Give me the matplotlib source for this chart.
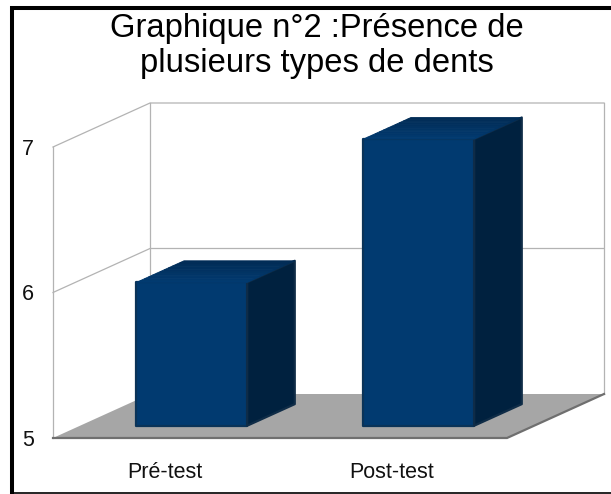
import numpy as np
import matplotlib
matplotlib.use('Agg')
from matplotlib import pyplot as plt
from matplotlib.lines import Line2D
from matplotlib.patches import Polygon

plt.rcParams['font.family'] = ['Liberation Sans', 'DejaVu Sans']

title = 'Graphique n°2 :Présence de\nplusieurs types de dents'
categories = ['Pré-test', 'Post-test']
values = [6, 7]
y_ticks = [5, 6, 7]

W, H = 611, 494
# pixels per category / per unit of value
xs, ys = 227.0, 145.5
x0, y5 = 166.5, 438.0
# oblique shift of the full depth of the box, in data units
dx, dy = 97.0 / xs, 44.0 / ys


def proj(x, y, d=0.0):
    return x + d * dx, y + d * dy


fig = plt.figure(figsize=(W / 100, H / 100), dpi=100)
ax = fig.add_axes([0, 0, 1, 1])
ax.set_xlim(-x0 / xs, (W - x0) / xs)
ax.set_ylim(5 - (H - y5) / ys, 5 + y5 / ys)
ax.axis('off')

xl, xr = -0.5, 1.5
grid_c = '#b3b3b3'

# walls
for v in y_ticks[1:]:
    px, py = zip(proj(xl, v), proj(xl, v, 1), proj(xr, v, 1))
    ax.plot(px, py, color=grid_c, lw=0.9, zorder=1)
for x, d in [(xl, 0), (xl, 1), (xr, 1)]:
    px, py = zip(proj(x, 5, d), proj(x, 7, d))
    ax.plot(px, py, color=grid_c, lw=0.9, zorder=1)

# floor
floor = [proj(xl, 5), proj(xr, 5), proj(xr, 5, 1), proj(xl, 5, 1)]
ax.add_patch(Polygon(floor, closed=True, fc='#a6a6a6', ec='none', zorder=2))
px, py = zip(proj(xl, 5), proj(xr, 5), proj(xr, 5, 1))
ax.plot(px, py, color='#6f6f6f', lw=1.6, zorder=2, solid_joinstyle='miter')


def bar3d(x, v, width=0.488, d0=0.28, depth=0.49):
    l, r = x - width / 2 - 0.008, x + width / 2 - 0.008
    d1 = d0 + depth
    # slightly shorter than the wall scale, as in the reference
    top = 5 + (v - 5) * 0.985
    front = [proj(l, 5, d0), proj(r, 5, d0), proj(r, top, d0), proj(l, top, d0)]
    side = [proj(r, 5, d0), proj(r, 5, d1), proj(r, top, d1), proj(r, top, d0)]
    ax.add_patch(Polygon(front, closed=True, fc='#013a70', ec='#0a3358', lw=1.6,
                         joinstyle='round', zorder=3))
    ax.add_patch(Polygon(side, closed=True, fc='#00213f', ec='#0f2c47', lw=1.6,
                         joinstyle='round', zorder=3))
    # top face shaded from front to back
    steps = 12
    for i in range(steps):
        a = d0 + depth * i / steps
        b = d0 + depth * (i + 1) / steps
        t = i / (steps - 1)
        c = (1 / 255, (58 - 14 * t) / 255, (112 - 26 * t) / 255)
        quad = [proj(l, top, a), proj(r, top, a), proj(r, top, b), proj(l, top, b)]
        ax.add_patch(Polygon(quad, closed=True, fc=c, ec=c, lw=0.6, zorder=4))


for i, v in enumerate(values):
    bar3d(i, v)

# labels
for i, c in enumerate(categories):
    ax.text(i - 0.008, 5 - 34 / ys, c, ha='center', va='center', fontsize=15.5, color='#111111')
for v in y_ticks:
    ax.text((28 - x0) / xs, v - 2 / ys, str(v), ha='center', va='center',
            fontsize=15.5, color='#111111')

fig.text(317 / W, 1 - 46 / H, title, ha='center', va='center', fontsize=23.6,
         color='black', linespacing=1.16)

# picture frame
for xy, lw in [(((12, 12), (494, 6)), 2.9), (((10, 611), (8, 8)), 2.9),
               (((10, 611), (493, 493)), 1.2)]:
    fig.add_artist(Line2D([p / W for p in xy[0]], [1 - p / H for p in xy[1]],
                          color='black', lw=lw, solid_capstyle='butt'))

fig.savefig('out.png', dpi=100, facecolor='white')
